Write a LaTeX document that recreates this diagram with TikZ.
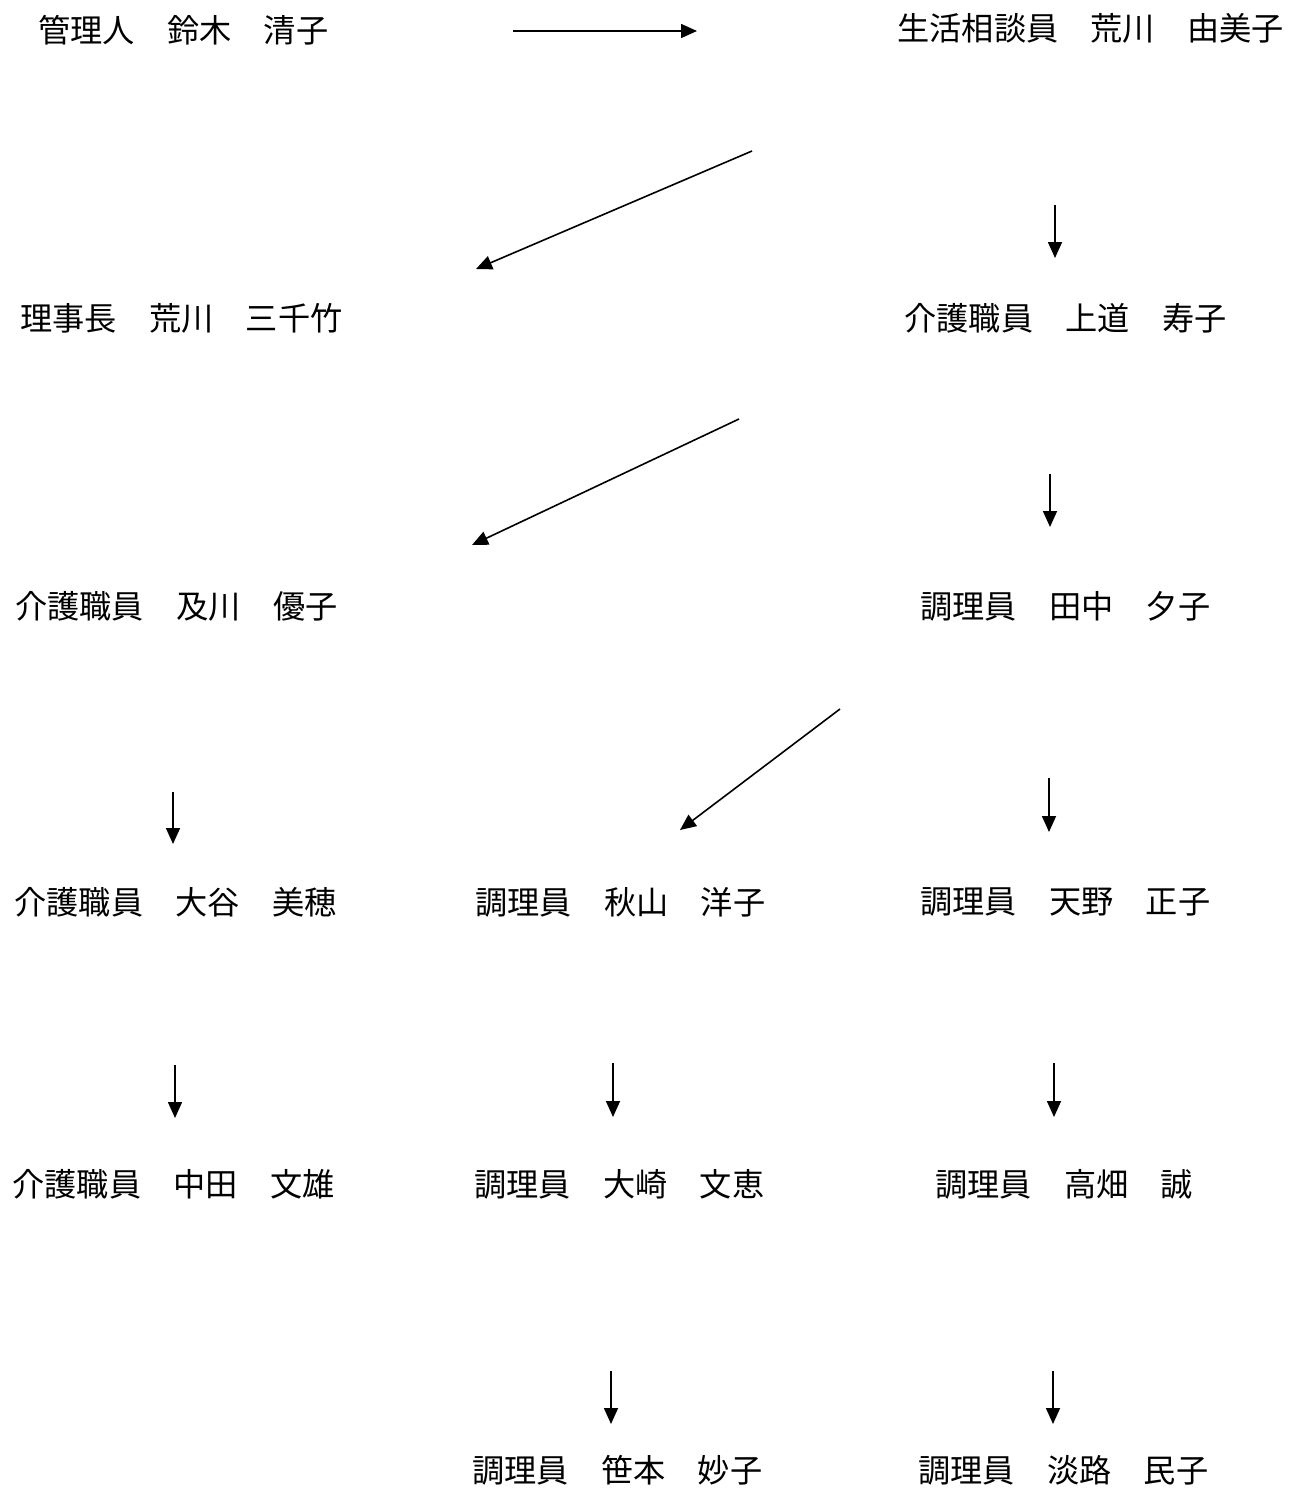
\documentclass[tikz,border=0pt]{standalone}
\usepackage{fontspec}
\newfontfamily\cjk{Noto Sans CJK JP}
\usetikzlibrary{arrows.meta}
\begin{document}
\begin{tikzpicture}[x=0.5pt,y=-0.5pt,
  person/.style={anchor=west,inner sep=0pt,font=\cjk\fontsize{16.1pt}{17pt}\selectfont},
  link/.style={line width=0.8pt,-{Triangle[length=8pt,width=7pt]}}]
\useasboundingbox (0,0) rectangle (1301,1488);
\node[person] (a) at (38,30) {管理人　鈴木　清子};
\node[person] (b) at (897,28) {生活相談員　荒川　由美子};
\node[person] (c) at (20,318) {理事長　荒川　三千竹};
\node[person] (d) at (904,318) {介護職員　上道　寿子};
\node[person] (e) at (15,606) {介護職員　及川　優子};
\node[person] (f) at (920,606) {調理員　田中　夕子};
\node[person] (g) at (14,902) {介護職員　大谷　美穂};
\node[person] (h) at (475,902) {調理員　秋山　洋子};
\node[person] (i) at (920,902) {調理員　天野　正子};
\node[person] (j) at (12,1184) {介護職員　中田　文雄};
\node[person] (k) at (474,1184) {調理員　大崎　文恵};
\node[person] (l) at (935,1184) {調理員　高畑　誠};
\node[person] (m) at (472,1470) {調理員　笹本　妙子};
\node[person] (n) at (918,1470) {調理員　淡路　民子};
\coordinate (s1) at (513,31);   \coordinate (t1) at (697,31);
\coordinate (s2) at (752,151);  \coordinate (t2) at (476,269);
\coordinate (s3) at (1055,205); \coordinate (t3) at (1055,258);
\coordinate (s4) at (739,419);  \coordinate (t4) at (472,545);
\coordinate (s5) at (1050,474); \coordinate (t5) at (1050,527);
\coordinate (s6) at (840,709);  \coordinate (t6) at (680,830);
\coordinate (s7) at (173,792);  \coordinate (t7) at (173,844);
\coordinate (s8) at (1049,778); \coordinate (t8) at (1049,832);
\coordinate (s9) at (175,1065); \coordinate (t9) at (175,1118);
\coordinate (s10) at (613,1063); \coordinate (t10) at (613,1117);
\coordinate (s11) at (1054,1063); \coordinate (t11) at (1054,1117);
\coordinate (s12) at (611,1371); \coordinate (t12) at (611,1424);
\coordinate (s13) at (1053,1371); \coordinate (t13) at (1053,1424);
\foreach \k in {1,...,13} {\draw[link] (s\k) -- (t\k);}
\end{tikzpicture}
\end{document}
